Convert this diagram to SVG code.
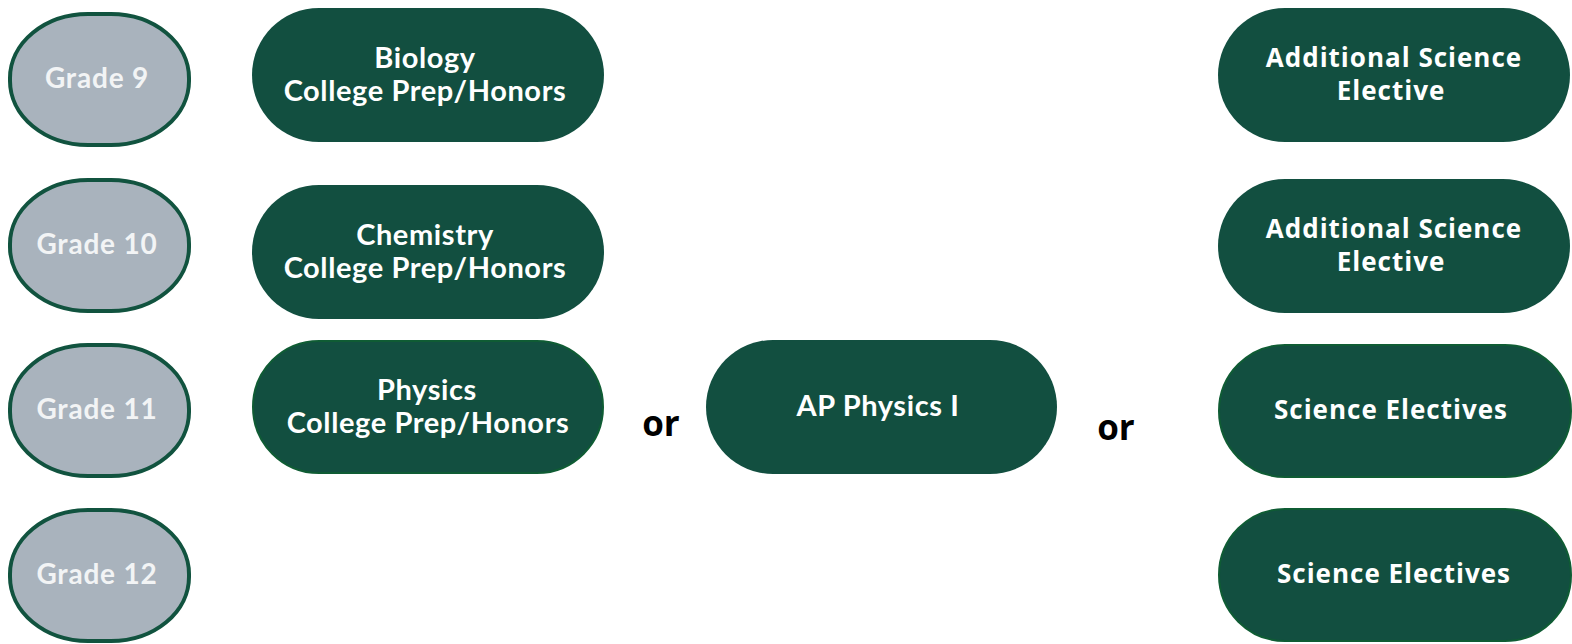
<svg xmlns="http://www.w3.org/2000/svg" width="1572" height="644" viewBox="0 0 1572 644">
<style>
.grade{fill:#a9b3bd;stroke:#11533f;stroke-width:4}
.pill{fill:#124f40}
.pill2{fill:#124f40;stroke:#0f5c34;stroke-width:2}
.gt{font-family:Lato,"Liberation Sans",sans-serif;font-weight:bold;font-size:28px;letter-spacing:0.8px;fill:#f2f4f5;text-anchor:middle}
.ct{font-family:Lato,"Liberation Sans",sans-serif;font-weight:bold;font-size:29px;letter-spacing:0.6px;fill:#ffffff;text-anchor:middle}
.rt{font-family:"Open Sans","Liberation Sans",sans-serif;font-weight:bold;font-size:26px;letter-spacing:1px;fill:#ffffff;text-anchor:middle}
.or{font-family:"Open Sans","Liberation Sans",sans-serif;font-weight:bold;font-size:35px;fill:#000000;text-anchor:middle}
</style>
<rect width="1572" height="644" fill="#ffffff"/>
<g id="grade9"><rect class="grade" x="10" y="14" width="179" height="131" rx="78" ry="64"/><text class="gt" x="97" y="88">Grade 9</text></g>
<g id="grade10"><rect class="grade" x="10" y="180" width="179" height="131" rx="78" ry="64"/><text class="gt" x="97" y="254">Grade 10</text></g>
<g id="grade11"><rect class="grade" x="10" y="345" width="179" height="131" rx="78" ry="64"/><text class="gt" x="97" y="419">Grade 11</text></g>
<g id="grade12"><rect class="grade" x="10" y="510" width="179" height="131" rx="78" ry="64"/><text class="gt" x="97" y="584">Grade 12</text></g>
<g id="biology"><rect class="pill" x="252" y="8" width="352" height="134" rx="67"/><text class="ct" x="425" y="68">Biology</text><text class="ct" x="425" y="101">College Prep/Honors</text></g>
<g id="chemistry"><rect class="pill" x="252" y="185" width="352" height="134" rx="67"/><text class="ct" x="425" y="245">Chemistry</text><text class="ct" x="425" y="278">College Prep/Honors</text></g>
<g id="physics"><rect class="pill2" x="253" y="341" width="350" height="132" rx="66"/><text class="ct" x="427" y="400">Physics</text><text class="ct" x="428" y="433">College Prep/Honors</text></g>
<g id="or1"><text class="or" x="661" y="436">or</text></g>
<g id="apphysics"><rect class="pill" x="706" y="340" width="351" height="134" rx="67"/><text class="ct" x="878" y="416">AP Physics I</text></g>
<g id="or2"><text class="or" x="1116" y="440">or</text></g>
<g id="elective1"><rect class="pill" x="1218" y="8" width="352" height="134" rx="67"/><text class="rt" x="1394" y="67">Additional Science</text><text class="rt" x="1391" y="100">Elective</text></g>
<g id="elective2"><rect class="pill" x="1218" y="179" width="352" height="134" rx="67"/><text class="rt" x="1394" y="238">Additional Science</text><text class="rt" x="1391" y="271">Elective</text></g>
<g id="electives3"><rect class="pill2" x="1219" y="345" width="352" height="132" rx="66"/><text class="rt" x="1391" y="419">Science Electives</text></g>
<g id="electives4"><rect class="pill2" x="1219" y="509" width="352" height="132" rx="66"/><text class="rt" x="1394" y="583">Science Electives</text></g>
<g id="connectors"></g>
</svg>
